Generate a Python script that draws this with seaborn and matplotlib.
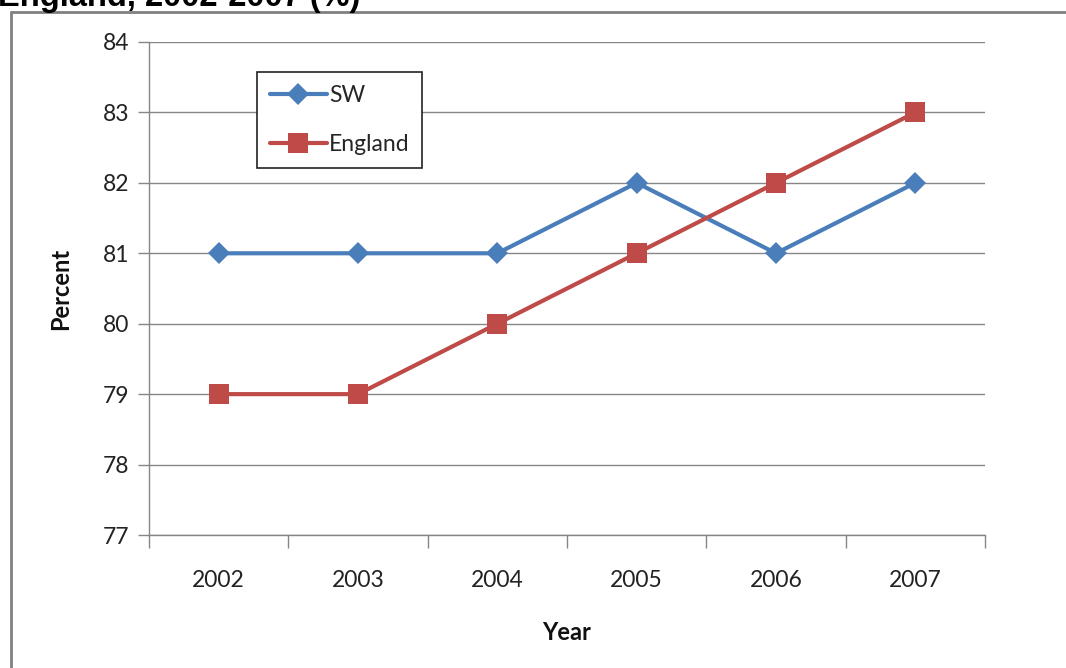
import matplotlib
matplotlib.use("Agg")
import matplotlib.pyplot as plt
import seaborn as sns
import pandas as pd
from matplotlib.lines import Line2D
from matplotlib.ticker import FixedLocator

years = ["2002", "2003", "2004", "2005", "2006", "2007"]
sw = [81, 81, 81, 82, 81, 82]
england = [79, 79, 80, 81, 82, 83]
series_names = ["SW", "England"]
title = "England, 2002-2007 (%)"

sns.set_theme(style="white")
plt.rcParams["font.family"] = ["Lato", "DejaVu Sans"]

df = pd.DataFrame({
    "pos": list(range(len(years))) * 2,
    "Percent": sw + england,
    "Series": [series_names[0]] * len(years) + [series_names[1]] * len(years),
})

W, H = 1066, 668
fig = plt.figure(figsize=(W / 100, H / 100), dpi=100)
ax = fig.add_axes([149 / W, 1 - 535 / H, (985 - 149) / W, (535 - 42) / H])

palette = {"SW": "#4A7EBB", "England": "#BE4B48"}
markers = {"SW": "D", "England": "s"}
sns.lineplot(data=df, x="pos", y="Percent", hue="Series", style="Series",
             palette=palette, markers=markers, dashes=False, linewidth=3,
             markersize=11, markeredgewidth=0, ax=ax, legend=False, zorder=3)
for line in ax.get_lines():
    if line.get_marker() == "s":
        line.set_markersize(14)

ax.set_xlim(-0.5, len(years) - 0.5)
ax.set_ylim(77, 84)
ax.set_yticks(range(77, 85))
ax.set_xticks(range(len(years)))
ax.set_xticklabels(years)
ax.xaxis.set_minor_locator(FixedLocator([i - 0.5 for i in range(len(years) + 1)]))
ax.tick_params(axis="x", which="major", length=0, pad=25, labelsize=16.5, labelcolor="#222222")
ax.tick_params(axis="x", which="minor", length=9, width=1, color="#868686", direction="out", bottom=True)
ax.tick_params(axis="y", length=8, width=1, color="#868686", direction="out", left=True, pad=6,
               labelsize=16.5, labelcolor="#222222")
ax.grid(axis="y", color="#868686", linewidth=1)
ax.grid(axis="x", visible=False)
ax.set_axisbelow(True)
for s in ["top", "right"]:
    ax.spines[s].set_visible(False)
for s in ["left", "bottom"]:
    ax.spines[s].set_color("#868686")
    ax.spines[s].set_linewidth(1)

ax.set_xlabel("Year", fontsize=17, fontweight="bold", labelpad=22, color="#111111")
ax.set_ylabel("Percent", fontsize=17, fontweight="bold", labelpad=22, color="#111111")

handles = [Line2D([], [], color=palette[n], marker=markers[n], linewidth=3,
                  markersize=11 if n == "SW" else 14, markeredgewidth=0) for n in series_names]
leg = ax.legend(handles, series_names, loc="upper left",
                bbox_to_anchor=(257 / W, 1 - 72 / H), bbox_transform=fig.transFigure,
                frameon=True, fancybox=False, edgecolor="#222222", framealpha=1,
                fontsize=16.5, handlelength=2.5, handletextpad=0.1, labelspacing=1.25,
                borderpad=0.55, borderaxespad=0)
leg.get_frame().set_linewidth(1.2)

# outer chart frame (partially cropped)
fig.add_artist(Line2D([11 / W, 11 / W], [0, 1 - 12 / H], transform=fig.transFigure,
                      color="#808080", linewidth=2))
fig.add_artist(Line2D([11 / W, 1], [1 - 12 / H, 1 - 12 / H], transform=fig.transFigure,
                      color="#808080", linewidth=2))

# title, cropped at the top edge as in the reference
fig.text(-2 / W, 1 - 6 / H, title, fontsize=23.5, fontweight="bold",
         family=["Liberation Sans", "DejaVu Sans"], va="baseline", ha="left", color="#000000")

fig.savefig("out.png", dpi=100)
